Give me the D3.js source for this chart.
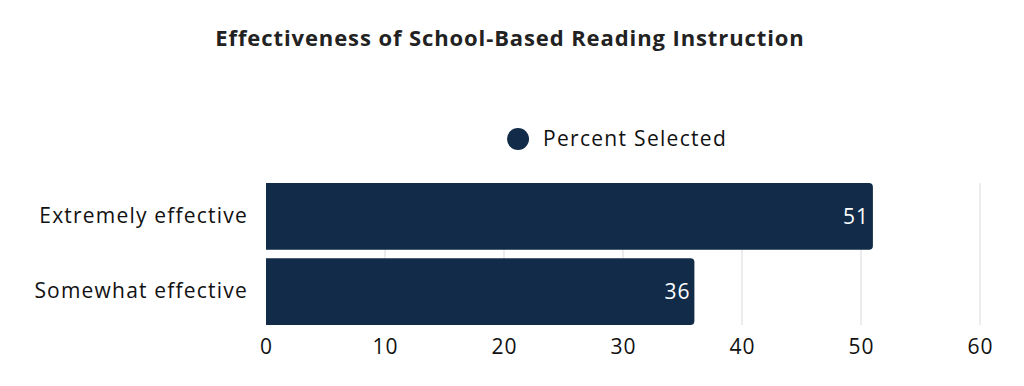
<!DOCTYPE html>
<html>
<head>
<meta charset="utf-8">
<script src="https://cdn.jsdelivr.net/npm/d3@7"></script>
<style>
  body { margin: 0; background: #fff; }
  text { font-family: "Open Sans", sans-serif; }
</style>
</head>
<body>
<div id="chart"></div>
<script>
const categories = ["Extremely effective", "Somewhat effective"];
const values = [51, 36];
const ticks = [0, 10, 20, 30, 40, 50, 60];
const seriesName = "Percent Selected";
const title = "Effectiveness of School-Based Reading Instruction";

let width = 1024,
    height = 386,
    margin = ({ top: 183, right: 44, bottom: 61, left: 266 });

const color = "#112b48";
const font = "\"Open Sans\", sans-serif";

const svg = d3.select("#chart")
  .append("svg")
  .attr("width", width)
  .attr("height", height);

let x = d3.scaleLinear()
  .domain([0, 60])
  .range([margin.left, width - margin.right]);

let y = d3.scaleBand()
  .domain(categories)
  .range([margin.top, height - margin.bottom])
  .paddingInner(0.11)
  .paddingOuter(0);

// title
svg.append("text")
  .attr("x", 510)
  .attr("y", 46)
  .attr("text-anchor", "middle")
  .attr("font-size", 22)
  .attr("font-weight", "bold")
  .attr("letter-spacing", 0.9)
  .attr("fill", "#222")
  .text(title);

// legend
let lg = svg.append("g").attr("transform", "translate(518,139)");
lg.append("circle").attr("r", 11).attr("fill", color);
lg.append("text")
  .attr("x", 25)
  .attr("dy", "0.35em")
  .attr("font-size", 21)
  .attr("letter-spacing", 1.3)
  .attr("fill", "#111")
  .text(seriesName);

// gridlines
svg.append("g")
  .selectAll("line")
  .data(ticks.slice(1))
  .join("line")
  .attr("x1", d => x(d))
  .attr("x2", d => x(d))
  .attr("y1", margin.top)
  .attr("y2", height - margin.bottom)
  .attr("stroke", "#d9d9d9")
  .attr("stroke-width", 1);

// x tick labels
svg.append("g")
  .attr("transform", `translate(0,${height - margin.bottom})`)
  .call(d3.axisBottom(x).tickValues(ticks).tickSize(0).tickPadding(14))
  .call(g => g.select(".domain").remove())
  .call(g => g.selectAll("text")
    .attr("font-size", 21)
    .attr("letter-spacing", 1)
    .attr("fill", "#111")
    .attr("font-family", font));

// y labels
svg.append("g")
  .attr("transform", `translate(${margin.left},0)`)
  .call(d3.axisLeft(y).tickSize(0).tickPadding(18))
  .call(g => g.select(".domain").remove())
  .call(g => g.selectAll("text")
    .attr("font-size", 21)
    .attr("letter-spacing", 1.2)
    .attr("fill", "#111")
    .attr("font-family", font));

// bars with rounded right corners
const r = 4;
function barPath(d, i) {
  let x0 = x(0), x1 = x(d), y0 = y(categories[i]), y1 = y0 + y.bandwidth();
  return `M${x0},${y0}H${x1 - r}Q${x1},${y0} ${x1},${y0 + r}V${y1 - r}Q${x1},${y1} ${x1 - r},${y1}H${x0}Z`;
}

svg.append("g")
  .selectAll("path")
  .data(values)
  .join("path")
  .attr("d", barPath)
  .attr("fill", color);

svg.append("g")
  .selectAll("text")
  .data(values)
  .join("text")
  .attr("x", d => x(d) - 4)
  .attr("y", (d, i) => y(categories[i]) + y.bandwidth() / 2)
  .attr("dy", "0.35em")
  .attr("text-anchor", "end")
  .attr("font-size", 21)
  .attr("letter-spacing", 1)
  .attr("fill", "#fff")
  .text(d => d);
</script>
</body>
</html>
